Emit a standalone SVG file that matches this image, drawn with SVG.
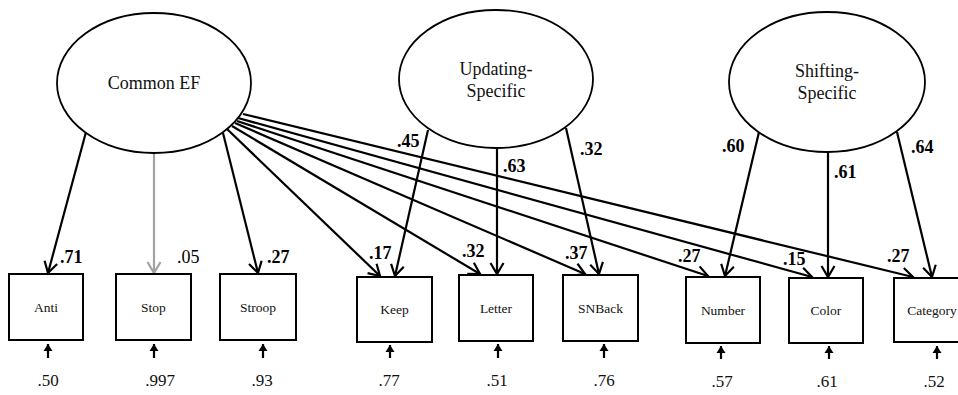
<svg xmlns="http://www.w3.org/2000/svg" width="958" height="395" viewBox="0 0 958 395">
  <style>
    text { font-family: 'Liberation Serif', Tinos, 'Times New Roman', Times, 'Noto Serif', 'DejaVu Serif', serif; }
    .latent { fill: #fff; stroke: #000; stroke-width: 1.8; }
    .obs { fill: #fff; stroke: #000; stroke-width: 2; }
    .lt { font-size: 18px; fill: #111; text-anchor: middle; }
    .ot { font-size: 13.5px; fill: #111; text-anchor: middle; }
    .ld { font-size: 18px; font-weight: bold; fill: #000; }
    .ldr { font-size: 18px; fill: #000; }
    .res { font-size: 17px; fill: #111; text-anchor: middle; }
    .path { stroke: #000; stroke-width: 2.2; fill: none; marker-end: url(#open); }
    .weak { stroke: #a3a3a3; stroke-width: 2.2; fill: none; marker-end: url(#openGray); }
    .err { stroke: #000; stroke-width: 2.2; fill: none; marker-end: url(#solid); }
  </style>
  <defs>
    <marker id="open" markerUnits="userSpaceOnUse" markerWidth="16" markerHeight="16" viewBox="-13 -8 16 16" refX="0" refY="0" orient="auto" overflow="visible">
      <path d="M -11 -6.5 L 0 0 L -11 6.5" fill="none" stroke="#000" stroke-width="2.2"/>
    </marker>
    <marker id="openGray" markerUnits="userSpaceOnUse" markerWidth="16" markerHeight="16" viewBox="-13 -8 16 16" refX="0" refY="0" orient="auto" overflow="visible">
      <path d="M -11 -6.5 L 0 0 L -11 6.5" fill="none" stroke="#a3a3a3" stroke-width="2.2"/>
    </marker>
    <marker id="solid" markerUnits="userSpaceOnUse" markerWidth="10" markerHeight="10" viewBox="-8 -5 10 10" refX="0" refY="0" orient="auto" overflow="visible">
      <path d="M -7 -4.5 L 0 0 L -7 4.5 Z" fill="#000"/>
    </marker>
  </defs>

  <!-- factor loadings -->
  <g id="connectors">
    <line class="path" x1="86" y1="132" x2="48" y2="273"/>
    <line class="weak" x1="154" y1="152" x2="154" y2="273"/>
    <line class="path" x1="223" y1="133" x2="258" y2="273"/>
    <line class="path" x1="227" y1="129" x2="380" y2="276"/>
    <line class="path" x1="232" y1="126" x2="480" y2="274"/>
    <line class="path" x1="235" y1="123" x2="585" y2="274"/>
    <line class="path" x1="237" y1="121" x2="708" y2="276"/>
    <line class="path" x1="238" y1="118" x2="812" y2="277"/>
    <line class="path" x1="243" y1="114" x2="913" y2="277"/>

    <line class="path" x1="428" y1="130" x2="395" y2="276"/>
    <line class="path" x1="497" y1="148" x2="497" y2="274"/>
    <line class="path" x1="566" y1="128" x2="599" y2="274"/>

    <line class="path" x1="759" y1="132" x2="725" y2="276"/>
    <line class="path" x1="828" y1="152" x2="828" y2="277"/>
    <line class="path" x1="897" y1="132" x2="932" y2="277"/>

    <!-- residual arrows -->
    <line class="err" x1="48" y1="358" x2="48" y2="344"/>
    <line class="err" x1="154" y1="358" x2="154" y2="344"/>
    <line class="err" x1="263" y1="358" x2="263" y2="344"/>
    <line class="err" x1="390" y1="358" x2="390" y2="345"/>
    <line class="err" x1="498" y1="358" x2="498" y2="344"/>
    <line class="err" x1="604" y1="358" x2="604" y2="344"/>
    <line class="err" x1="721" y1="359" x2="721" y2="346"/>
    <line class="err" x1="829" y1="359" x2="829" y2="346"/>
    <line class="err" x1="937" y1="359" x2="937" y2="346"/>
  </g>

  <!-- loading values -->
  <g id="loadings">
    <text class="ld" x="60" y="263">.71</text>
    <text class="ldr" x="177" y="263">.05</text>
    <text class="ld" x="267" y="263">.27</text>
    <text class="ld" x="369" y="259">.17</text>
    <text class="ld" x="462" y="257">.32</text>
    <text class="ld" x="565" y="259">.37</text>
    <text class="ld" x="678" y="262">.27</text>
    <text class="ld" x="783" y="265">.15</text>
    <text class="ld" x="887" y="262">.27</text>
    <text class="ld" x="397" y="147">.45</text>
    <text class="ld" x="503" y="172">.63</text>
    <text class="ld" x="580" y="155">.32</text>
    <text class="ld" x="722" y="152">.60</text>
    <text class="ld" x="834" y="178">.61</text>
    <text class="ld" x="911" y="153">.64</text>
  </g>

  <!-- latent factors -->
  <g id="common-ef">
    <ellipse class="latent" cx="154" cy="83" rx="97" ry="70"/>
    <text class="lt" x="154" y="89">Common EF</text>
  </g>
  <g id="updating-specific">
    <ellipse class="latent" cx="496" cy="79" rx="97" ry="69"/>
    <text class="lt" x="496" y="75">Updating-</text>
    <text class="lt" x="496" y="97">Specific</text>
  </g>
  <g id="shifting-specific">
    <ellipse class="latent" cx="827" cy="82" rx="98" ry="70"/>
    <text class="lt" x="827" y="77">Shifting-</text>
    <text class="lt" x="827" y="99">Specific</text>
  </g>

  <!-- observed tasks -->
  <g id="anti">
    <rect class="obs" x="9" y="274" width="74" height="66"/>
    <text class="ot" x="46" y="312">Anti</text>
    <text class="res" x="48" y="386">.50</text>
  </g>
  <g id="stop">
    <rect class="obs" x="116" y="274" width="75" height="66"/>
    <text class="ot" x="153.5" y="312">Stop</text>
    <text class="res" x="160" y="386">.997</text>
  </g>
  <g id="stroop">
    <rect class="obs" x="220" y="274" width="76" height="66"/>
    <text class="ot" x="258" y="312">Stroop</text>
    <text class="res" x="262" y="386">.93</text>
  </g>
  <g id="keep">
    <rect class="obs" x="357" y="277" width="75" height="65"/>
    <text class="ot" x="394.5" y="314">Keep</text>
    <text class="res" x="389" y="386">.77</text>
  </g>
  <g id="letter">
    <rect class="obs" x="459" y="275" width="74" height="66"/>
    <text class="ot" x="496" y="313">Letter</text>
    <text class="res" x="497" y="386">.51</text>
  </g>
  <g id="snback">
    <rect class="obs" x="563" y="275" width="75" height="66"/>
    <text class="ot" x="600.5" y="313">SNBack</text>
    <text class="res" x="604" y="386">.76</text>
  </g>
  <g id="number">
    <rect class="obs" x="686" y="277" width="74" height="66"/>
    <text class="ot" x="723" y="315">Number</text>
    <text class="res" x="722" y="387">.57</text>
  </g>
  <g id="color">
    <rect class="obs" x="789" y="278" width="74" height="65"/>
    <text class="ot" x="826" y="315">Color</text>
    <text class="res" x="827" y="387">.61</text>
  </g>
  <g id="category">
    <rect class="obs" x="894" y="278" width="72" height="64"/>
    <text class="ot" x="932" y="315">Category</text>
    <text class="res" x="934" y="387">.52</text>
  </g>
</svg>
